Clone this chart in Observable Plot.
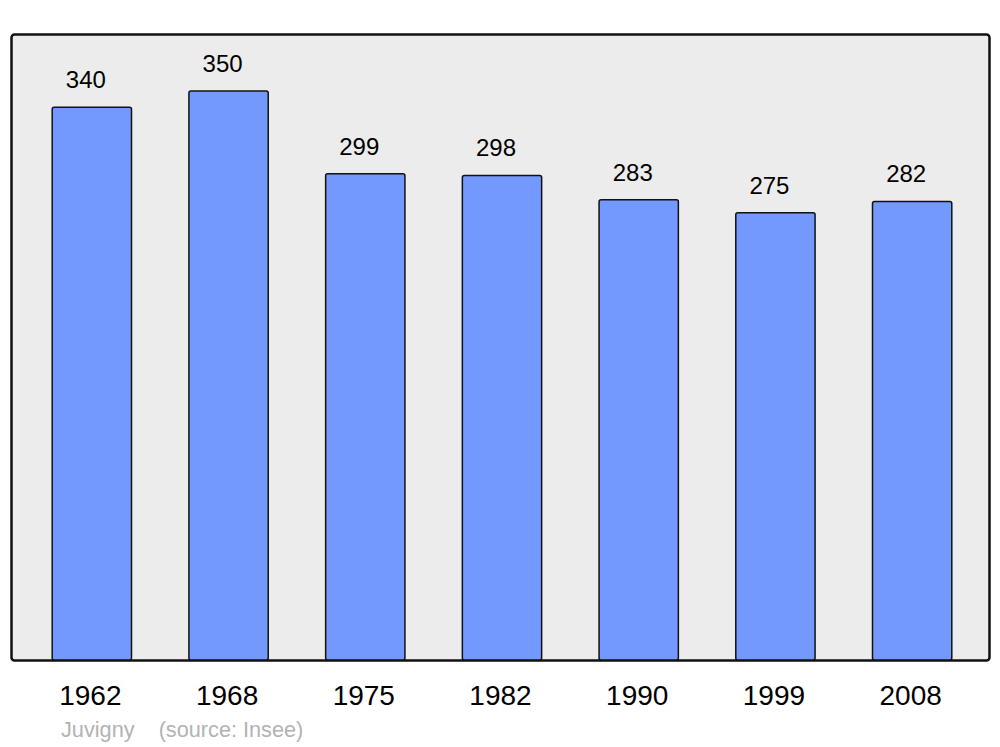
<!DOCTYPE html>
<html>
<head>
<meta charset="utf-8">
<script src="https://cdn.jsdelivr.net/npm/d3@7"></script>
<script src="https://cdn.jsdelivr.net/npm/@observablehq/plot@0.6"></script>
<style>
  html, body { margin: 0; padding: 0; background: #fff; }
  #wrap { position: relative; width: 1000px; height: 747px; font-family: "Liberation Sans", Arial, sans-serif; }
  #caption { position: absolute; left: 61px; top: 719px; font-size: 21.7px; color: #b3b3b3; white-space: pre; line-height: 1; }
</style>
</head>
<body>
<div id="wrap">
  <div id="chart"></div>
  <div id="caption">Juvigny    (source: Insee)</div>
</div>
<script>
const years = ["1962", "1968", "1975", "1982", "1990", "1999", "2008"];
const population = [340, 350, 299, 298, 283, 275, 282];

const data = years.map((y, i) => ({year: y, value: population[i]}));

const chart = Plot.plot({
  width: 1000,
  height: 715,
  marginTop: 34,
  marginBottom: 55,
  marginLeft: 11,
  marginRight: 11,
  style: {fontFamily: "'Liberation Sans', Arial, sans-serif", background: "transparent", color: "#000"},
  x: {type: "band", domain: years, range: [23.5, 980.5], paddingInner: 0.42, paddingOuter: 0.21, round: false, label: null},
  y: {domain: [0, 385], axis: null},
  marks: [
    Plot.frame({fill: "#ececec", stroke: "#111", strokeWidth: 2.5, rx: 3}),
    Plot.barY(data, {x: "year", y: "value", fill: "#7399ff", stroke: "#111", strokeWidth: 1.5, rx: 2}),
    Plot.text(data, {x: "year", y: "value", text: d => String(d.value), dx: -6.5, dy: -27.5, fontSize: 24, fill: "#000"}),
    Plot.axisX({tickSize: 0, tickPadding: 25, dx: -2, fontSize: 28, label: null, fill: "#000"})
  ]
});
document.getElementById("chart").appendChild(chart);
</script>
</body>
</html>
